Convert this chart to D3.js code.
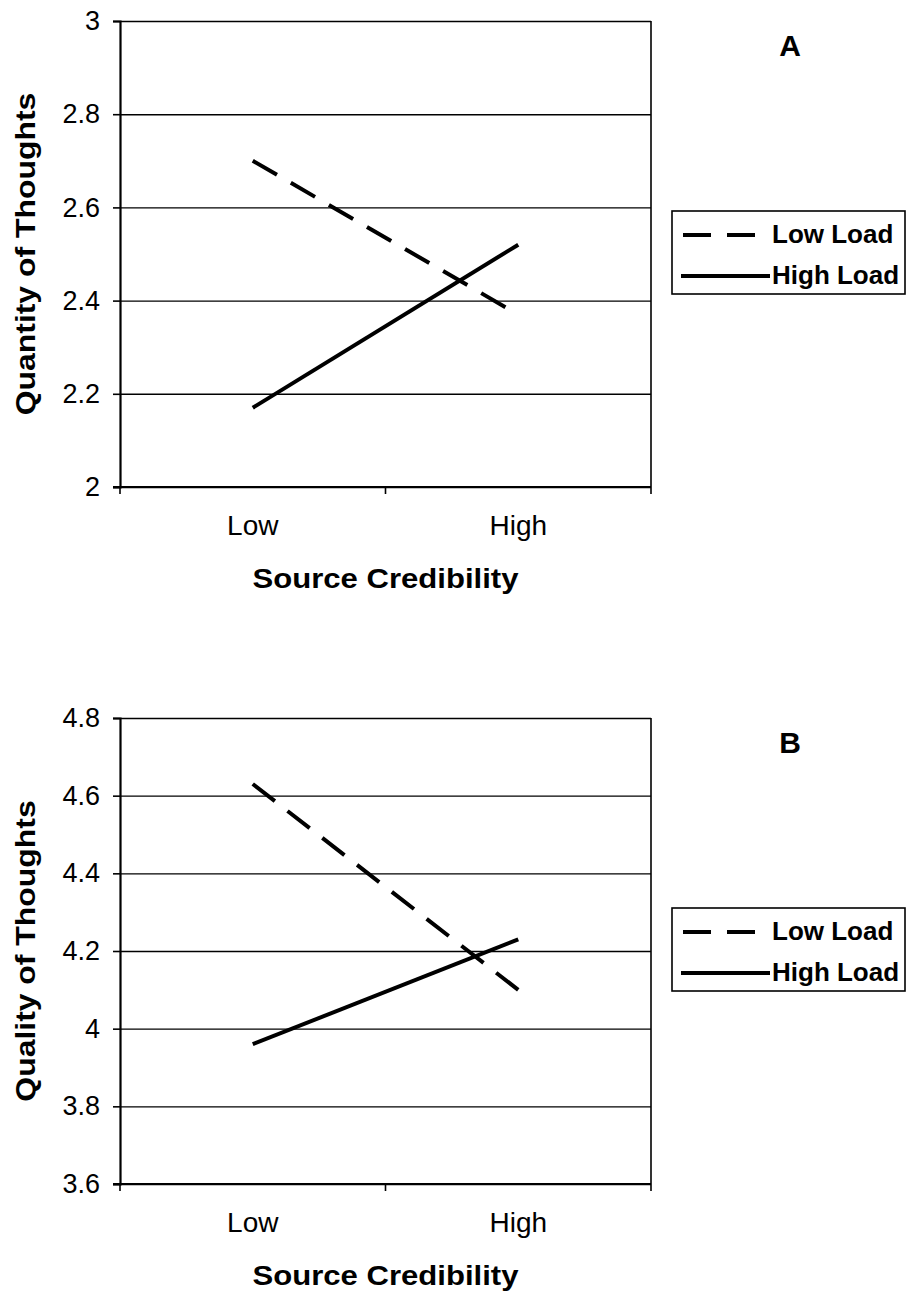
<!DOCTYPE html>
<html>
<head>
<meta charset="utf-8">
<script src="https://cdn.jsdelivr.net/npm/d3@7"></script>
<style>
    body { margin: 0; background: #fff; }
    text { font-family: "Liberation Sans", Arial, sans-serif; fill: #000; }
</style>
</head>
<body>
<div id="graph-display"></div>
<script>
// data
const categories = ['Low', 'High'];
const seriesNames = ['Low Load', 'High Load'];

const quantityLowLoad = [2.70, 2.37];
const quantityHighLoad = [2.17, 2.52];
const quantityTicks = [2, 2.2, 2.4, 2.6, 2.8, 3];

const qualityLowLoad = [4.63, 4.10];
const qualityHighLoad = [3.96, 4.23];
const qualityTicks = [3.6, 3.8, 4, 4.2, 4.4, 4.6, 4.8];

const width = 907;
const height = 1296;

const PLOT_LEFT = 120;
const PLOT_RIGHT = 651;
const PLOT_HEIGHT = 466;
const DASH = '28,16';

const svg = d3.select('#graph-display')
    .append('svg')
    .attr('width', width)
    .attr('height', height);

const fmt = (d) => String(+d.toFixed(1));

function drawPanel(cfg) {
    const top = cfg.top;
    const bottom = top + PLOT_HEIGHT;
    const g = svg.append('g');

    const x = d3.scaleBand()
        .domain(categories)
        .range([PLOT_LEFT, PLOT_RIGHT]);

    const y = d3.scaleLinear()
        .domain(d3.extent(cfg.ticks))
        .range([bottom, top]);

    // gridlines
    g.append('g')
        .attr('transform', `translate(${PLOT_LEFT}, 0)`)
        .call(d3.axisLeft(y).tickValues(cfg.ticks).tickSize(-(PLOT_RIGHT - PLOT_LEFT)).tickFormat(''))
        .call((a) => a.select('.domain').remove())
        .selectAll('line')
        .attr('stroke', '#000')
        .attr('stroke-width', 1.4);

    // right border of the plot area
    g.append('line')
        .attr('x1', PLOT_RIGHT).attr('x2', PLOT_RIGHT)
        .attr('y1', top).attr('y2', bottom)
        .attr('stroke', '#000')
        .attr('stroke-width', 1.6);

    // y axis
    const yAxis = g.append('g')
        .attr('transform', `translate(${PLOT_LEFT}, 0)`)
        .call(d3.axisLeft(y).tickValues(cfg.ticks).tickSize(7).tickPadding(13).tickFormat(fmt));
    yAxis.select('.domain').attr('stroke-width', 2.2);
    yAxis.selectAll('line').attr('stroke-width', 1.6);
    yAxis.selectAll('text')
        .style('font-size', '27px')
        .attr('font-family', null);

    // x axis: labels at band centres, ticks at band edges
    const xAxis = g.append('g')
        .attr('transform', `translate(0, ${bottom})`)
        .call(d3.axisBottom(x).tickSize(0).tickPadding(28));
    xAxis.select('.domain').remove();
    xAxis.selectAll('text')
        .style('font-size', '28px')
        .attr('font-family', null);

    g.append('line')
        .attr('x1', PLOT_LEFT - 7).attr('x2', PLOT_RIGHT)
        .attr('y1', bottom).attr('y2', bottom)
        .attr('stroke', '#000')
        .attr('stroke-width', 2.2);

    const edges = categories.map((c) => x(c)).concat([x.range()[1]]);
    g.selectAll('.xtick')
        .data(edges)
        .enter()
        .append('line')
        .attr('class', 'xtick')
        .attr('x1', (d) => d).attr('x2', (d) => d)
        .attr('y1', bottom).attr('y2', bottom + 7)
        .attr('stroke', '#000')
        .attr('stroke-width', 1.6);

    // lines
    const line = d3.line()
        .x((d, i) => x(categories[i]) + x.bandwidth() / 2)
        .y((d) => y(d));

    const series = [
        { name: seriesNames[0], values: cfg.low, dash: DASH },
        { name: seriesNames[1], values: cfg.high, dash: null }
    ];

    g.selectAll('.series')
        .data(series)
        .enter()
        .append('path')
        .attr('class', 'series')
        .attr('d', (d) => line(d.values))
        .attr('fill', 'none')
        .attr('stroke', '#000')
        .attr('stroke-width', 4)
        .attr('stroke-dasharray', (d) => d.dash);

    // axis titles
    g.append('text')
        .attr('transform', `translate(35, ${(top + bottom) / 2}) rotate(-90) scale(1.14, 1)`)
        .attr('text-anchor', 'middle')
        .style('font-size', '28px')
        .style('font-weight', 'bold')
        .text(cfg.yTitle);

    g.append('text')
        .attr('transform', `translate(${(PLOT_LEFT + PLOT_RIGHT) / 2}, ${bottom + 101}) scale(1.11, 1)`)
        .attr('text-anchor', 'middle')
        .style('font-size', '28px')
        .style('font-weight', 'bold')
        .text('Source Credibility');

    // panel letter
    g.append('text')
        .attr('x', 790)
        .attr('y', top + 35)
        .attr('text-anchor', 'middle')
        .style('font-size', '30px')
        .style('font-weight', 'bold')
        .text(cfg.letter);

    // legend
    const legendTop = top + 190;
    const legend = g.append('g')
        .attr('transform', `translate(672, ${legendTop})`);

    legend.append('rect')
        .attr('width', 233)
        .attr('height', 83)
        .attr('fill', '#fff')
        .attr('stroke', '#000')
        .attr('stroke-width', 1.6);

    const items = legend.selectAll('.legend-item')
        .data(series)
        .enter()
        .append('g')
        .attr('class', 'legend-item')
        .attr('transform', (d, i) => `translate(0, ${24 + i * 41})`);

    items.append('line')
        .attr('x1', (d) => d.dash ? 11 : 9)
        .attr('x2', (d) => d.dash ? 84 : 98)
        .attr('stroke', '#000')
        .attr('stroke-width', 4)
        .attr('stroke-dasharray', (d) => d.dash);

    items.append('text')
        .attr('x', 100)
        .attr('y', 8)
        .style('font-size', '26px')
        .style('font-weight', 'bold')
        .text((d) => d.name);
}

drawPanel({
    top: 21,
    ticks: quantityTicks,
    low: quantityLowLoad,
    high: quantityHighLoad,
    yTitle: 'Quantity of Thoughts',
    letter: 'A'
});

drawPanel({
    top: 718,
    ticks: qualityTicks,
    low: qualityLowLoad,
    high: qualityHighLoad,
    yTitle: 'Quality of Thoughts',
    letter: 'B'
});
</script>
</body>
</html>
